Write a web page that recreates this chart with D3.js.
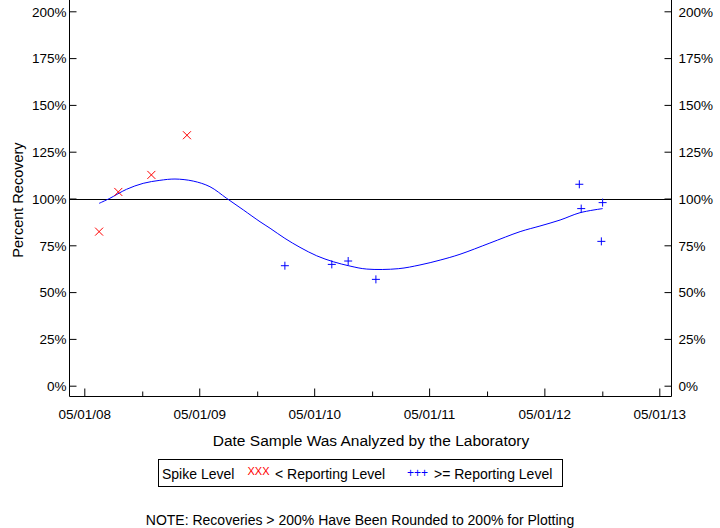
<!DOCTYPE html>
<html><head><meta charset="utf-8">
<script src="https://cdn.jsdelivr.net/npm/d3@7/dist/d3.min.js"></script>
<style>body{margin:0;background:#fff}svg{display:block;font-family:"Liberation Sans",Arial,sans-serif}</style>
</head><body><svg id="c" width="720" height="528"></svg>
<script>
// Data
const belowDates = ["2008-06-17","2008-08-17","2008-11-30","2009-03-23"];
const belowValues = [82.3,103.5,112.6,133.8];
const aboveDates = ["2010-01-28","2010-06-26","2010-08-17","2010-11-13","2012-08-20","2012-08-26","2012-11-02","2012-10-29"];
const aboveValues = [64.1,64.8,66.6,56.8,107.6,94.6,97.8,77.1];
const curveDates = ["2008-06-17","2008-07-21","2008-09-12","2008-11-04","2008-12-27","2009-02-13","2009-04-12","2009-06-04","2009-07-27","2009-09-18","2009-11-10","2009-12-12","2010-01-28","2010-03-17","2010-05-09","2010-07-01","2010-08-23","2010-10-15","2011-01-23","2011-04-02","2011-06-05","2011-08-07","2011-11-10","2012-02-14","2012-04-17","2012-06-20","2012-08-22","2012-11-02"];
const curveValues = [97.4,100.1,104.9,108.1,109.7,110.4,109.3,106.3,100.1,93.9,87.6,84.1,78.7,73.9,69.4,66.2,63.9,62.3,62.5,64.5,67.1,70.2,76.2,82.3,85.3,88.5,92.4,94.6];
const yTicks = [0,25,50,75,100,125,150,175,200];
const xMajorTicks = ["2008-05-01","2009-05-01","2010-05-01","2011-05-01","2012-05-01","2013-05-01"];
const xMinorTicks = ["2008-11-01","2009-11-01","2010-11-01","2011-11-01","2012-11-01"];
const referenceValue = 100;

const parse = d3.utcParse("%Y-%m-%d");
const fmt = d3.utcFormat("%m/%d/%y");
const svg = d3.select("#c");
const L = 69.5, R = 671.5, B = 396.5;
const x = d3.scaleUtc().domain([parse("2008-05-01"), parse("2013-05-01")]).range([84.3, 659.3]);
const y = d3.scaleLinear().domain([0, 200]).range([385.7, 11.3]);

const g = svg.append("g");
// frame
g.append("path").attr("d", `M${L},0V${B}H${R}V0`).attr("fill","none").attr("stroke","#000").attr("stroke-width",1);

// left axis
const yl = g.append("g").attr("transform",`translate(${L},0)`).call(d3.axisRight(y).tickValues(yTicks).tickSize(7).tickFormat(d=>d+"%"));
yl.select(".domain").remove();
yl.selectAll("text").attr("x",-3).attr("text-anchor","end").attr("font-size",13.5).attr("font-family","Liberation Sans, Arial, sans-serif").attr("dy","0.36em");
// right axis
const yr = g.append("g").attr("transform",`translate(${R},0)`).call(d3.axisLeft(y).tickValues(yTicks).tickSize(7).tickFormat(d=>d+"%"));
yr.select(".domain").remove();
yr.selectAll("text").attr("x",7).attr("text-anchor","start").attr("font-size",13.5).attr("font-family","Liberation Sans, Arial, sans-serif").attr("dy","0.36em");

// x axis major
const xa = g.append("g").attr("transform",`translate(0,${B})`).call(d3.axisTop(x).tickValues(xMajorTicks.map(parse)).tickSize(8).tickFormat(fmt));
xa.select(".domain").remove();
xa.selectAll("text").attr("y",18).attr("dy","0.36em").attr("font-size",13.5).attr("font-family","Liberation Sans, Arial, sans-serif");
const xm = g.append("g").attr("transform",`translate(0,${B})`).call(d3.axisTop(x).tickValues(xMinorTicks.map(parse)).tickSize(5).tickFormat(""));
xm.select(".domain").remove();
svg.selectAll(".tick line").attr("stroke","#000");

// reference line
g.append("line").attr("x1",L).attr("x2",R).attr("y1",Math.round(y(referenceValue))+0.5).attr("y2",Math.round(y(referenceValue))+0.5).attr("stroke","#000");

// curve
const curve = curveDates.map((d,i)=>[parse(d), curveValues[i]]);
g.append("path").attr("d", d3.line().x(d=>x(d[0])).y(d=>y(d[1])).curve(d3.curveCatmullRom)(curve))
  .attr("fill","none").attr("stroke","#0000ff").attr("stroke-width",1);

// points below reporting level (x)
const s = 4;
belowDates.forEach((d,i)=>{
  const cx = x(parse(d)), cy = y(belowValues[i]);
  g.append("path").attr("d",`M${cx-s},${cy-s}L${cx+s},${cy+s}M${cx-s},${cy+s}L${cx+s},${cy-s}`).attr("stroke","#ff0000").attr("fill","none");
});
aboveDates.forEach((d,i)=>{
  const cx = x(parse(d)), cy = y(aboveValues[i]);
  g.append("path").attr("d",`M${cx-s},${cy}H${cx+s}M${cx},${cy-s}V${cy+s}`).attr("stroke","#0000ff").attr("fill","none");
});

// titles
svg.append("text").attr("x",371).attr("y",446).attr("text-anchor","middle").attr("font-size",15.5).text("Date Sample Was Analyzed by the Laboratory");
svg.append("text").attr("transform","translate(23,200) rotate(-90)").attr("text-anchor","middle").attr("font-size",14.5).text("Percent Recovery");

// legend
svg.append("rect").attr("x",158.5).attr("y",459.5).attr("width",404).attr("height",27).attr("fill","none").attr("stroke","#000");
svg.append("text").attr("x",162).attr("y",479).attr("font-size",14).text("Spike Level");
svg.append("text").attr("x",247.5).attr("y",475).attr("font-size",11).attr("fill","#ff0000").text("XXX");
svg.append("text").attr("x",275).attr("y",479).attr("font-size",14).text("< Reporting Level");
svg.append("text").attr("x",407).attr("y",477).attr("font-size",12).attr("fill","#0000ff").text("+++");
svg.append("text").attr("x",434).attr("y",479).attr("font-size",14).text(">= Reporting Level");

svg.append("text").attr("x",360).attr("y",525).attr("text-anchor","middle").attr("font-size",14).text("NOTE: Recoveries > 200% Have Been Rounded to 200% for Plotting");
</script></body></html>
